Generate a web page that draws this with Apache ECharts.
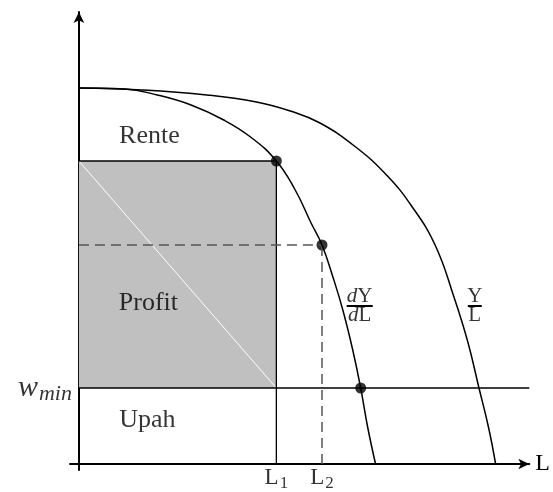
<!DOCTYPE html>
<html>
<head>
<meta charset="utf-8">
<script src="https://cdn.jsdelivr.net/npm/echarts@6/dist/echarts.min.js"></script>
<style>
  html, body { margin: 0; padding: 0; background: #fff; }
  #chart { width: 553px; height: 492px; }
</style>
</head>
<body>
<div id="chart"></div>
<script>
// kurva produk marjinal (dY/dL) dan produk rata-rata (Y/L)
const mplCurve = [[0, 376], [46, 375], [79, 369], [113, 359], [146, 344], [173, 327], [199, 303], [218, 274], [234, 241], [245, 219], [256, 187], [266, 154], [276, 114], [284, 76], [291, 37], [299, 0]];
const aplCurve = [[0, 376], [63, 374], [129, 369], [179, 362], [213, 353], [243, 341], [279, 317], [311, 288], [336, 257], [359, 219], [378, 167], [392, 122], [403, 77], [413, 36], [420, 0]];

const wMin = 76;
const L1 = 199, L2 = 245, L3 = 284;
const mplAtL1 = 303, mplAtL2 = 219;
const xMax = 454;

const dots = [[L1, mplAtL1], [L2, mplAtL2], [L3, wMin]];
const areaNames = ['Rente', 'Profit', 'Upah'];
const areaPos = [[71, 328], [70, 161], [69, 44]];
const fracPos = [[283, 158], [399, 158]];   // dY/dL, Y/L

const FONT = '"Liberation Serif", "DejaVu Serif", serif';
const chart = echarts.init(document.getElementById('chart'));

function seg(data, color, width, type) {
  return {
    type: 'line', data: data, symbol: 'none', silent: true, animation: false,
    lineStyle: { color: color, width: width, type: type || 'solid' }
  };
}

const option = {
  animation: false,
  grid: { left: 70, right: 20, top: 12, bottom: 22 },
  xAxis: {
    type: 'value', min: -9, max: xMax,
    splitLine: { show: false }, axisTick: { show: false }, axisLabel: { show: false },
    axisLine: { onZero: true, symbol: ['none', 'arrow'], symbolSize: [8, 11], lineStyle: { color: '#000', width: 2 } },
    name: 'L', nameLocation: 'end', nameGap: 6,
    nameTextStyle: { fontFamily: FONT, fontSize: 24, color: '#000' }
  },
  yAxis: {
    type: 'value', min: -6, max: 452,
    splitLine: { show: false }, axisTick: { show: false }, axisLabel: { show: false },
    axisLine: { onZero: true, symbol: ['none', 'arrow'], symbolSize: [8, 11], lineStyle: { color: '#000', width: 2 } }
  },
  series: [
    // area profit (abu-abu)
    {
      type: 'line', data: [], silent: true,
      markArea: {
        silent: true,
        itemStyle: { color: '#c0c0c0' },
        data: [[{ coord: [0, wMin] }, { coord: [L1, mplAtL1] }]]
      }
    },
    seg([[0, mplAtL1], [L1, wMin]], '#ffffff', 1),
    seg([[0, mplAtL1], [L1, mplAtL1]], '#000', 1.6),
    seg([[L1, 0], [L1, mplAtL1]], '#000', 1.3),
    seg([[0, wMin], [xMax, wMin]], '#000', 1.3),
    seg([[0, mplAtL2], [L2, mplAtL2]], '#555', 1.5, [10, 6]),
    seg([[L2, 0], [L2, mplAtL2]], '#555', 1.5, [10, 6]),
    {
      type: 'line', data: mplCurve, symbol: 'none', smooth: 0.45, silent: true,
      lineStyle: { color: '#000', width: 1.5 }
    },
    {
      type: 'line', data: aplCurve, symbol: 'none', smooth: 0.45, silent: true,
      lineStyle: { color: '#000', width: 1.5 }
    },
    {
      type: 'scatter', data: dots, symbolSize: 11, silent: true,
      itemStyle: { color: '#000' }
    },
    // label area
    {
      type: 'scatter', symbolSize: 0, silent: true,
      data: areaPos.map((p, i) => ({ value: p, name: areaNames[i] })),
      label: {
        show: true, position: 'inside', formatter: '{b}',
        fontFamily: FONT, fontSize: 26, color: '#000'
      }
    },
    // w_min
    {
      type: 'scatter', symbolSize: 0, silent: true,
      data: [[0, wMin]],
      label: {
        show: true, position: 'left', distance: 7,
        formatter: '{w|w}{m|min}',
        rich: {
          w: { fontFamily: FONT, fontStyle: 'italic', fontSize: 30, color: '#000', lineHeight: 30, verticalAlign: 'top' },
          m: { fontFamily: FONT, fontStyle: 'italic', fontSize: 22, color: '#000', lineHeight: 22, verticalAlign: 'top', padding: [10, 0, 0, 1] }
        }
      }
    },
    // L1, L2
    {
      type: 'scatter', symbolSize: 0, silent: true,
      data: [[L1, 0], [L2, 0]],
      label: {
        show: true, position: 'bottom', distance: 2,
        formatter: (p) => '{b|L}{s|' + (p.dataIndex + 1) + '}',
        rich: {
          b: { fontFamily: FONT, fontSize: 23, color: '#000', lineHeight: 24, verticalAlign: 'top' },
          s: { fontFamily: FONT, fontSize: 17, color: '#000', lineHeight: 18, verticalAlign: 'top', padding: [9, 0, 0, 1] }
        }
      }
    },
    // pecahan dY/dL dan Y/L
    {
      type: 'scatter', symbolSize: 0, silent: true,
      data: fracPos,
      label: {
        show: true, position: 'inside',
        formatter: (p) => p.dataIndex === 0 ? '{i|d}{r|Y}\n{i|d}{r|L}' : '{r|Y}\n{r|L}',
        rich: {
          i: { fontFamily: FONT, fontStyle: 'italic', fontSize: 21, color: '#000', lineHeight: 19 },
          r: { fontFamily: FONT, fontSize: 21, color: '#000', lineHeight: 19 }
        }
      }
    }
  ]
};
chart.setOption(option);

// garis pecahan
const barHalf = [13, 7];
chart.setOption({
  graphic: fracPos.map((p, i) => {
    const c = chart.convertToPixel({ gridIndex: 0 }, p);
    return {
      type: 'line', silent: true,
      shape: { x1: c[0] - barHalf[i], y1: c[1], x2: c[0] + barHalf[i], y2: c[1] },
      style: { stroke: '#000', lineWidth: 2 }
    };
  })
});
</script>
</body>
</html>
